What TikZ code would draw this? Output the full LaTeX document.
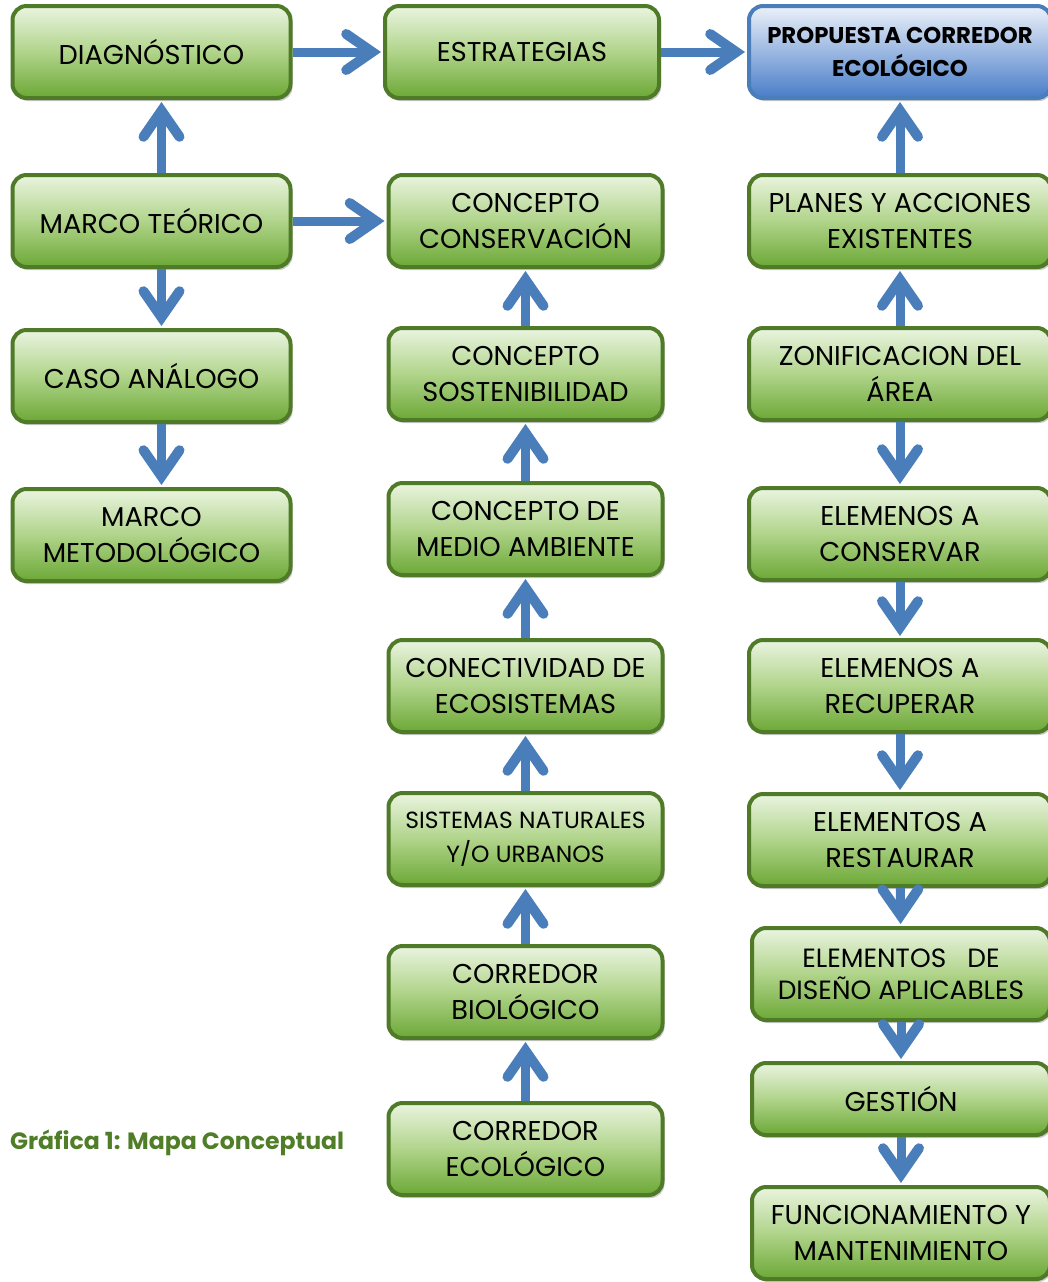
\documentclass[tikz,border=0pt]{standalone}
\usepackage{fontspec}
\setmainfont{Poppins}
\usepackage{tikz}
\usetikzlibrary{arrows.meta,shadows,positioning}
\definecolor{bordeverde}{RGB}{79,122,40}
\definecolor{verdeclaro}{RGB}{234,244,224}
\definecolor{verdemedio}{RGB}{176,212,138}
\definecolor{verdeoscuro}{RGB}{108,168,54}
\definecolor{azulflecha}{RGB}{74,126,187}
\definecolor{azulclaro}{RGB}{236,241,250}
\definecolor{azuloscuro}{RGB}{72,125,200}
\definecolor{verdetitulo}{RGB}{80,125,40}

\tikzset{
  caja/.style={draw=bordeverde, line width=2pt, rounded corners=7pt,
    top color=verdeclaro, bottom color=verdeoscuro, middle color=verdemedio,
    align=center, inner sep=2pt, minimum width=139pt, minimum height=46pt,
    font=\fontsize{13.6}{18}\selectfont,
    drop shadow={shadow xshift=1pt, shadow yshift=-1.5pt, opacity=0.3, fill=black!70}},
  cajaazul/.style={caja, draw=azulflecha, top color=azulclaro, bottom color=azuloscuro,
    middle color=azulclaro!50!azuloscuro, font=\fontsize{11.4}{16.5}\selectfont\bfseries},
  flecha/.style={draw=azulflecha, line width=4.5pt,
    -{Straight Barb[length=13pt, width=18pt, line width=5pt, line cap=round, line join=miter]},
    shorten >=1pt},
}

\begin{document}
\begin{tikzpicture}[x=0.5pt, y=-0.5pt]
\useasboundingbox (0,0) rectangle (1048,1282);

% columna izquierda
\node[caja] (diag) at (151.5,52) {DIAGNÓSTICO};
\node[caja] (marco) at (151.5,221) {MARCO TEÓRICO};
\node[caja] (caso) at (151.5,376) {CASO ANÁLOGO};
\node[caja] (metod) at (151.5,535) {MARCO\\METODOLÓGICO};

% columna central
\node[caja, minimum width=137pt] (estr) at (522,52) {ESTRATEGIAS};
\node[caja, minimum width=137pt] (conserv) at (525.5,221) {CONCEPTO\\CONSERVACIÓN};
\node[caja, minimum width=137pt] (sosten) at (525.5,374) {CONCEPTO\\SOSTENIBILIDAD};
\node[caja, minimum width=137pt] (medio) at (525.5,529) {CONCEPTO DE\\MEDIO AMBIENTE};
\node[caja, minimum width=137pt] (conect) at (525.5,686) {CONECTIVIDAD DE\\ECOSISTEMAS};
\node[caja, minimum width=137pt, font=\fontsize{11.7}{17}\selectfont] (sistemas) at (525.5,839) {SISTEMAS NATURALES\\Y/O URBANOS};
\node[caja, minimum width=137pt] (biol) at (525.5,992) {CORREDOR\\BIOLÓGICO};
\node[caja, minimum width=137pt] (ecol) at (525.5,1149) {CORREDOR\\ECOLÓGICO};

% columna derecha
\node[cajaazul, minimum width=151pt] (prop) at (900,52) {PROPUESTA CORREDOR\\ECOLÓGICO};
\node[caja, minimum width=151pt] (planes) at (900,221) {PLANES Y ACCIONES\\EXISTENTES};
\node[caja, minimum width=151pt] (zonif) at (900,374) {ZONIFICACION DEL\\ÁREA};
\node[caja, minimum width=151pt] (conservar) at (900,534) {ELEMENOS A\\CONSERVAR};
\node[caja, minimum width=151pt] (recuperar) at (900,686) {ELEMENOS A\\RECUPERAR};
\node[caja, minimum width=151pt] (restaurar) at (900,840) {ELEMENTOS A\\RESTAURAR};
\node[caja, minimum width=149pt, font=\fontsize{13.2}{16}\selectfont] (diseno) at (901,974) {ELEMENTOS \ \ DE\\DISEÑO APLICABLES};
\node[caja, minimum width=149pt, minimum height=36pt] (gestion) at (901,1099) {GESTIÓN};
\node[caja, minimum width=149pt] (funcion) at (901,1233) {FUNCIONAMIENTO Y\\MANTENIMIENTO};

\node[anchor=west, text=verdetitulo, font=\fontsize{11.8}{14}\selectfont\bfseries] (titulo) at (3,1143) {Gráfica 1: Mapa Conceptual};

% flechas
\draw[flecha] (diag.east) -- (estr.west);
\draw[flecha] (estr.east) -- (prop.west);
\draw[flecha] (marco.east) -- (conserv.west);
\draw[flecha] ([xshift=5pt]marco.north) -- ([xshift=5pt]diag.south);
\draw[flecha] ([xshift=5pt]marco.south) -- ([xshift=5pt]caso.north);
\draw[flecha] ([xshift=5pt]caso.south) -- ([xshift=5pt]metod.north);

\draw[flecha] (sosten) -- (conserv);
\draw[flecha] (medio) -- (sosten);
\draw[flecha] (conect) -- (medio);
\draw[flecha] (sistemas) -- (conect);
\draw[flecha] (biol) -- (sistemas);
\draw[flecha] (ecol) -- (biol);

\draw[flecha] (planes) -- (prop);
\draw[flecha] (zonif) -- (planes);
\draw[flecha] (zonif) -- (conservar);
\draw[flecha] (conservar) -- (recuperar);
\draw[flecha] (recuperar) -- (restaurar);
\draw[flecha] (restaurar) -- (diseno);
\draw[flecha] (diseno) -- (gestion);
\draw[flecha] (gestion) -- (funcion);
\end{tikzpicture}
\end{document}
